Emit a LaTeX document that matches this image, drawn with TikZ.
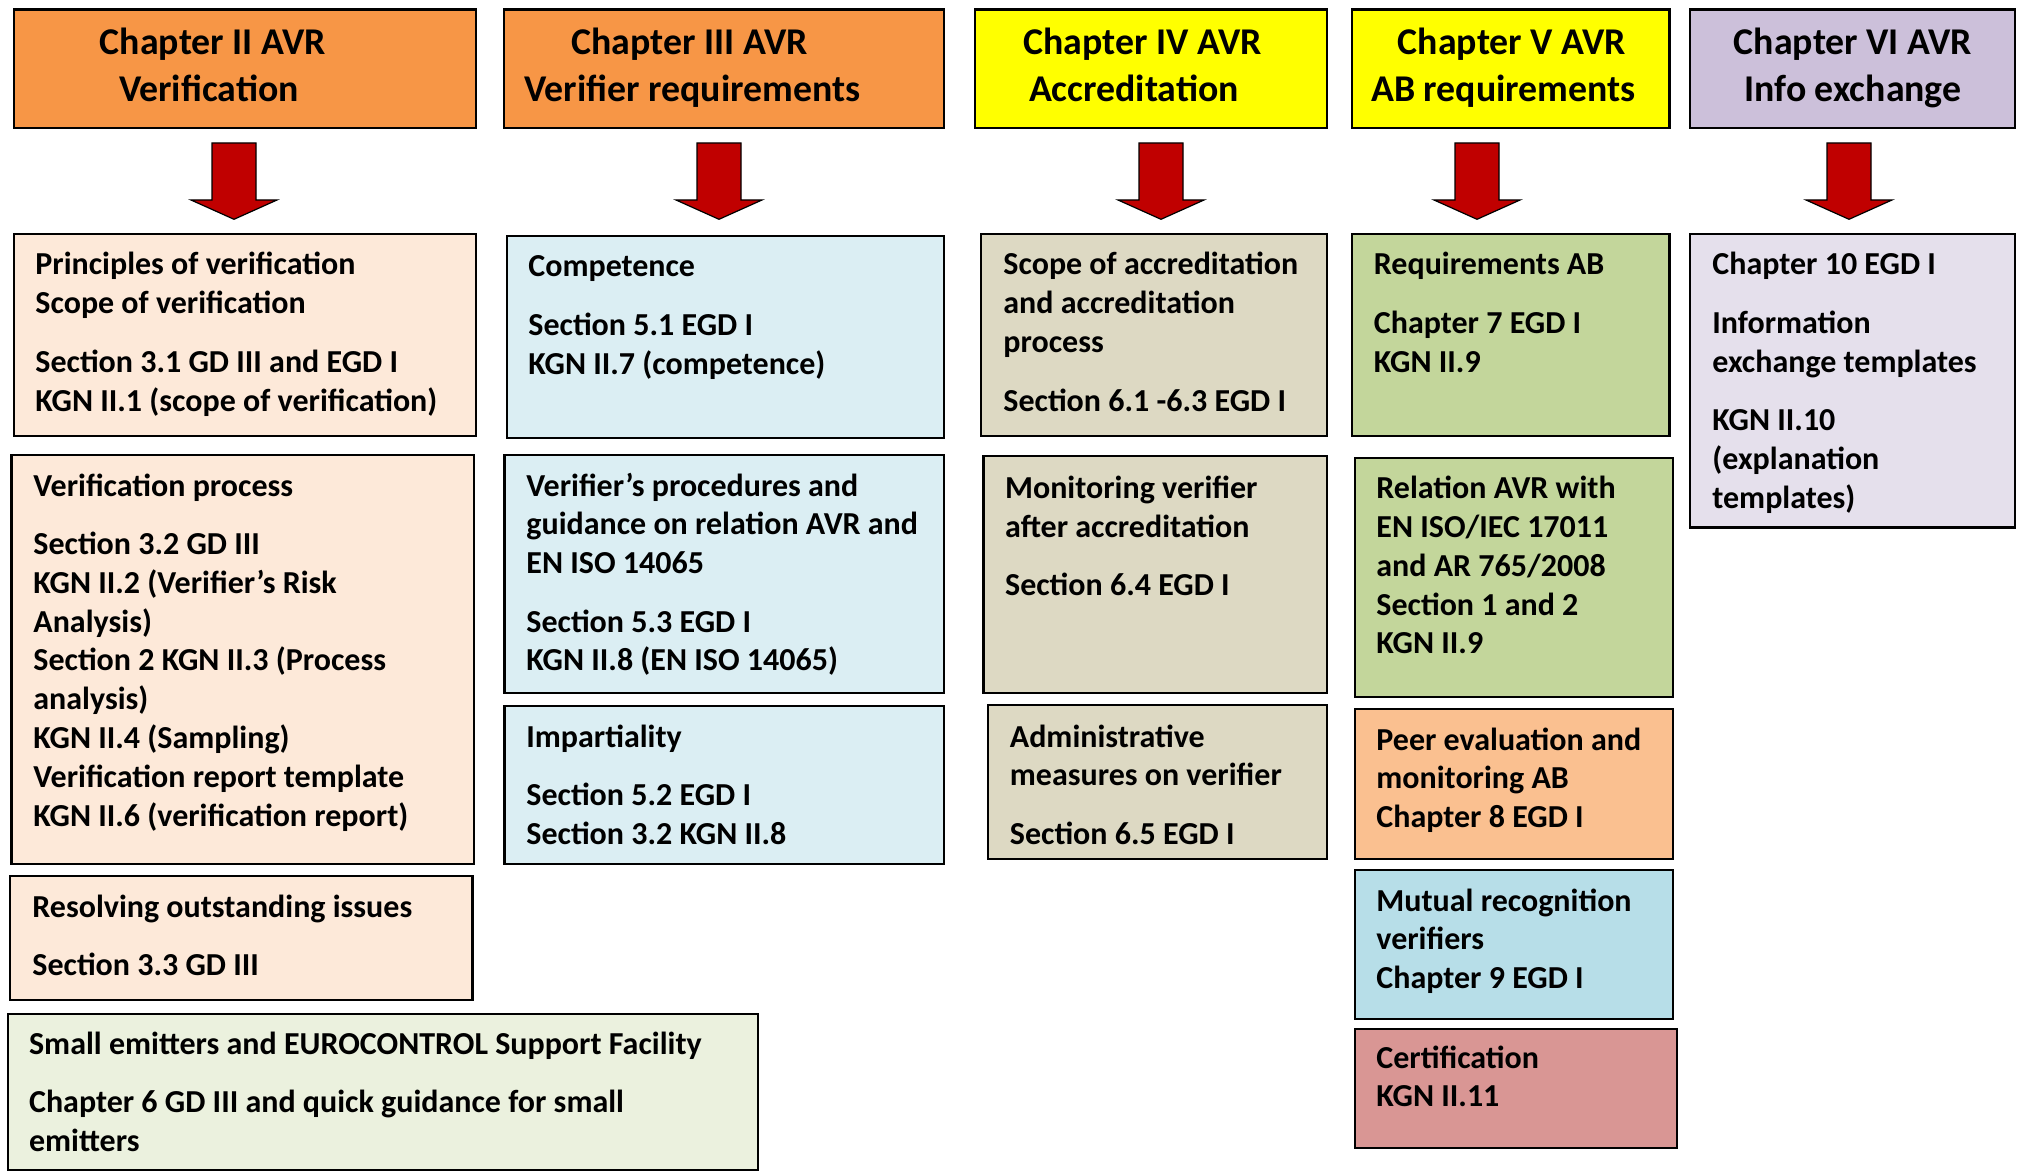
\documentclass[tikz,border=0pt]{standalone}
\usepackage{fontspec}
\setmainfont{Carlito}
\usetikzlibrary{fit}
\definecolor{hOrange}{HTML}{F79646}
\definecolor{hYellow}{HTML}{FFFF00}
\definecolor{hLav}{HTML}{CCC0DA}
\definecolor{cPeach}{HTML}{FDE9D9}
\definecolor{cBlue}{HTML}{DBEEF3}
\definecolor{cTan}{HTML}{DDD9C3}
\definecolor{cGreen}{HTML}{C3D69B}
\definecolor{cLav}{HTML}{E5E0EC}
\definecolor{cLGreen}{HTML}{EBF1DE}
\definecolor{cPeer}{HTML}{FAC090}
\definecolor{cMutual}{HTML}{B7DEE8}
\definecolor{cCert}{HTML}{D99694}
\definecolor{arrowred}{HTML}{C00000}
\newcommand\myline[1]{\hbox{#1}}
\newcommand\mygap{\vskip9.85pt}
\newcommand\hcen[2][0]{\hbox to 0pt{\hss\kern#1pt #2\hss}}
\newcommand\bx[6]{\node[bxs, fill=#6, fit={(#2,#3) (#4,#5)}] (#1) {};}
\newcommand\btxt[4]{\node[txt] (#1) at (#2,#3) {\vtop{#4}};}
\newcommand\barrow[1]{%
  \coordinate (#1a) at (#1,143);
  \draw[arr] (#1a) ++(-22,0) -- ++(44,0) -- ++(0,57) -- ++(21,0) -- ++(-43,19.3) -- ++(-43,-19.3) -- ++(21,0) -- cycle;}
\begin{document}
\begin{tikzpicture}[x=0.5pt,y=-0.5pt,
  bxs/.style={draw=black, line width=1.1pt, inner sep=0pt},
  txt/.style={inner sep=0pt, anchor=base west, font=\bfseries\fontsize{16}{19.4}\selectfont},
  htxt/.style={inner sep=0pt, anchor=base, font=\bfseries\fontsize{18.9}{23.35}\selectfont},
  arr/.style={fill=arrowred, draw=black, line width=0.6pt, line join=miter}]
\useasboundingbox[fill=white] (0,0) rectangle (2022,1176);
% headers
\bx{h2}{14}{9.5}{476}{128}{hOrange}
\bx{h3}{504}{9.5}{944}{128}{hOrange}
\bx{h4}{975}{9.5}{1327}{128}{hYellow}
\bx{h5}{1352}{9.5}{1669.5}{128}{hYellow}
\bx{h6}{1690}{9.5}{2015}{128}{hLav}
\node[htxt] (h2t) at (211,55) {\vtop{\hcen[2]{Chapter II AVR}\hcen[-2]{Verification}}};
\node[htxt] (h3t) at (691,55) {\vtop{\hcen[-1.5]{Chapter III AVR}\hcen[1.5]{Verifier requirements}}};
\node[htxt] (h4t) at (1138,55) {\vtop{\hcen[4.5]{Chapter IV AVR}\hcen[-4]{Accreditation}}};
\node[htxt] (h5t) at (1508,55) {\vtop{\hcen[4]{Chapter V AVR}\hcen[-4.5]{AB requirements}}};
\node[htxt] (h6t) at (1853,55) {\vtop{\hcen{Chapter VI AVR}\hcen{Info exchange}}};
% arrows
\barrow{234}
\barrow{719}
\barrow{1161}
\barrow{1477}
\barrow{1849}
% column 1
\bx{b1}{14}{234}{476}{436}{cPeach}
\btxt{b1t}{35}{275}{\myline{Principles of verification}\myline{Scope of verification}\mygap\myline{Section 3.1 GD III and EGD I}\myline{KGN II.1 (scope of verification)}}
\bx{b2}{11.5}{455}{474}{864}{cPeach}
\btxt{b2t}{33}{496}{\myline{Verification process}\mygap\myline{Section 3.2 GD III}\myline{KGN II.2 (Verifier’s Risk}\myline{Analysis)}\myline{Section 2 KGN II.3 (Process}\myline{analysis)}\myline{KGN II.4 (Sampling)}\myline{Verification report template}\myline{KGN II.6 (verification report)}}
\bx{b3}{10}{876}{472.5}{1000}{cPeach}
\btxt{b3t}{32}{917}{\myline{Resolving outstanding issues}\mygap\myline{Section 3.3 GD III}}
\bx{b4}{8}{1014}{758}{1170}{cLGreen}
\btxt{b4t}{28.7}{1054}{\myline{Small emitters and EUROCONTROL Support Facility}\mygap\myline{Chapter 6 GD III and quick guidance for small}\myline{emitters}}
% column 2
\bx{c1}{507}{236}{944}{438}{cBlue}
\btxt{c1t}{528}{277}{\myline{Competence}\mygap\myline{Section 5.1 EGD I}\myline{KGN II.7 (competence)}}
\bx{c2}{504.5}{455}{944}{693}{cBlue}
\btxt{c2t}{526}{496}{\myline{Verifier’s procedures and}\myline{guidance on relation AVR and}\myline{EN ISO 14065}\mygap\myline{Section 5.3 EGD I}\myline{KGN II.8 (EN ISO 14065)}}
\bx{c3}{504.5}{706}{944}{864}{cBlue}
\btxt{c3t}{526}{747}{\myline{Impartiality}\mygap\myline{Section 5.2 EGD I}\myline{Section 3.2 KGN II.8}}
% column 3
\bx{d1}{981}{234}{1327}{436}{cTan}
\btxt{d1t}{1003}{275}{\myline{Scope of accreditation}\myline{and accreditation}\myline{process}\mygap\myline{Section 6.1 -6.3 EGD I}}
\bx{d2}{983.5}{456}{1327}{693}{cTan}
\btxt{d2t}{1004.7}{498.6}{\myline{Monitoring verifier}\myline{after accreditation}\mygap\myline{Section 6.4 EGD I}}
\bx{d3}{987.6}{705}{1327}{858.6}{cTan}
\btxt{d3t}{1009.5}{747}{\myline{Administrative}\myline{measures on verifier}\mygap\myline{Section 6.5 EGD I}}
% column 4
\bx{e1}{1352}{234}{1669.5}{436}{cGreen}
\btxt{e1t}{1373.5}{275}{\myline{Requirements AB}\mygap\myline{Chapter 7 EGD I}\myline{KGN II.9}}
\bx{e2}{1355}{458}{1672.6}{697}{cGreen}
\btxt{e2t}{1376}{498.6}{\myline{Relation AVR with}\myline{EN ISO/IEC 17011}\myline{and AR 765/2008}\myline{Section 1 and 2}\myline{KGN II.9}}
\bx{e3}{1355}{708.6}{1673}{858.6}{cPeer}
\btxt{e3t}{1376}{750}{\myline{Peer evaluation and}\myline{monitoring AB}\myline{Chapter 8 EGD I}}
\bx{e4}{1355}{870}{1673}{1019}{cMutual}
\btxt{e4t}{1376}{911}{\myline{Mutual recognition}\myline{verifiers}\myline{Chapter 9 EGD I}}
\bx{e5}{1355}{1029}{1677}{1148}{cCert}
\btxt{e5t}{1376}{1068}{\myline{Certification}\myline{KGN II.11}}
% column 5
\bx{f1}{1690}{234}{2015}{527.5}{cLav}
\btxt{f1t}{1712}{275}{\myline{Chapter 10 EGD I}\mygap\myline{Information}\myline{exchange templates}\mygap\myline{KGN II.10}\myline{(explanation}\myline{templates)}}
\end{tikzpicture}
\end{document}
